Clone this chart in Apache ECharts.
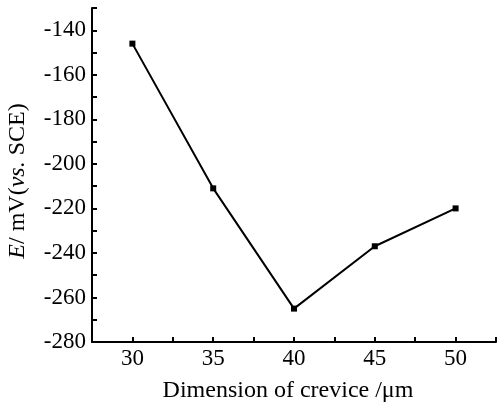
<!DOCTYPE html>
<html>
<head>
<meta charset="utf-8">
<script src="https://cdn.jsdelivr.net/npm/echarts@6/dist/echarts.min.js"></script>
<style>
  html, body { margin: 0; padding: 0; background: #fff; }
  #chart { width: 499px; height: 405px; }
</style>
</head>
<body>
<div id="chart"></div>
<script>
// crevice size (um) vs potential (mV vs SCE)
const crevice = [30, 35, 40, 45, 50];
const potential = [-146, -211, -265, -237, -220];
const xTicks = [30, 35, 40, 45, 50];
const yTicks = [-280, -260, -240, -220, -200, -180, -160, -140];

const FONT = '"Liberation Serif", "DejaVu Serif", serif';

const chart = echarts.init(document.getElementById('chart'));

chart.setOption({
    animation: false,
    grid: { left: 92, right: 1, top: 8, bottom: 63 },
    xAxis: {
        type: 'value',
        min: 27.5,
        max: 52.5,
        interval: 2.5,
        axisLine: { lineStyle: { color: '#000', width: 2 } },
        axisTick: { inside: true, length: 5, lineStyle: { color: '#000', width: 2 } },
        axisLabel: {
            color: '#000', fontFamily: FONT, fontSize: 23, margin: 5,
            formatter: v => xTicks.includes(v) ? String(v) : ''
        },
        splitLine: { show: false }
    },
    yAxis: {
        type: 'value',
        min: -280,
        max: -130,
        interval: 10,
        axisLine: { show: true, lineStyle: { color: '#000', width: 2 } },
        axisTick: { show: true, inside: true, length: 5, lineStyle: { color: '#000', width: 2 } },
        axisLabel: {
            color: '#000', fontFamily: FONT, fontSize: 23, margin: 6,
            formatter: v => yTicks.includes(v) ? String(v) : ''
        },
        splitLine: { show: false }
    },
    graphic: [
        {
            type: 'text',
            x: 18, y: 181,
            rotation: Math.PI / 2,
            style: {
                text: '{i|E}/ mV({i|vs.} SCE)',
                font: '24px ' + FONT,
                fill: '#000',
                align: 'center',
                verticalAlign: 'middle',
                rich: {
                    i: { fontStyle: 'italic', fontFamily: FONT, fontSize: 24, fill: '#000' }
                }
            }
        },
        {
            type: 'text',
            x: 288, y: 391,
            style: {
                text: 'Dimension of crevice /\u03bcm',
                font: '24px ' + FONT,
                fill: '#000',
                align: 'center',
                verticalAlign: 'middle'
            }
        }
    ],
    series: [{
        type: 'line',
        data: crevice.map((c, i) => [c, potential[i]]),
        symbol: 'rect',
        symbolSize: 6,
        lineStyle: { color: '#000', width: 2 },
        itemStyle: { color: '#000' }
    }]
});
</script>
</body>
</html>
